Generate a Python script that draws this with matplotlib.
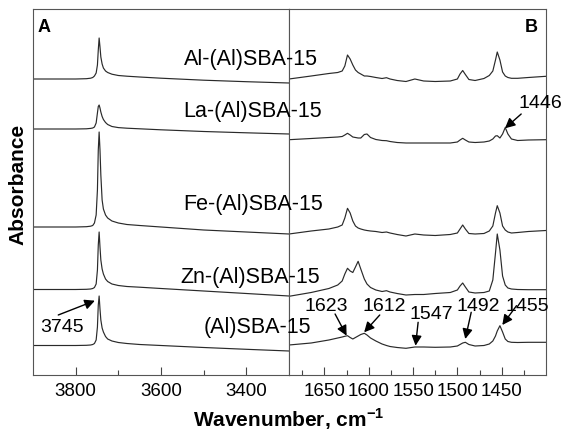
import matplotlib
matplotlib.use('Agg')
from matplotlib import pyplot as plt

plt.rcParams['font.family'] = ['Liberation Sans', 'DejaVu Sans']
plt.rcParams['mathtext.fontset'] = 'custom'
plt.rcParams['mathtext.rm'] = 'Liberation Sans'
plt.rcParams['mathtext.bf'] = 'Liberation Sans:bold'

samples = ['Al-(Al)SBA-15', 'La-(Al)SBA-15', 'Fe-(Al)SBA-15', 'Zn-(Al)SBA-15', '(Al)SBA-15']

# panel A: OH stretching region (arbitrary absorbance units, offset stacked)
wn_oh = [3900, 3850, 3800, 3775, 3765, 3760, 3756, 3752, 3749, 3747, 3745, 3743, 3741,
         3738, 3735, 3730, 3725, 3715, 3700, 3680, 3650, 3600, 3500, 3400, 3300]
oh_al = [296, 296, 296, 296.3, 296.8, 297.5, 299, 302, 310, 325, 337, 328, 318,
         311, 307, 304, 302.5, 300.8, 299.5, 298.8, 298, 296.8, 294.8, 293.3, 292]
oh_la = [246, 246, 246, 246.2, 246.6, 247, 248, 252, 262, 268.5, 270, 267, 263,
         258.5, 255.5, 252.5, 250.5, 248.5, 247.4, 246.8, 246.2, 245.2, 243.5, 242.2, 241]
oh_fe = [148, 148, 148, 148.3, 148.8, 149.5, 152, 160, 185, 225, 243, 225, 200,
         175, 166, 160, 157, 154, 152, 150.5, 149.5, 148, 145, 143, 141]
oh_zn = [85.5, 85.5, 85.5, 85.7, 86, 86.5, 87.5, 91, 105, 130, 143, 128, 115,
         106, 101, 96, 93.5, 91, 89.5, 88.5, 87.8, 86.5, 84, 81.5, 79]
oh_sba = [29.5, 29.5, 29.5, 29.7, 30, 30.5, 31.5, 35, 48, 70, 79, 66, 55,
          47, 43, 38.5, 36, 34, 32.5, 31.5, 30.5, 29.5, 27.5, 25.7, 24]

# panel B: pyridine region
wn_py = [1690, 1665, 1645, 1635, 1630, 1627, 1624, 1621, 1618, 1615, 1612, 1609, 1605,
         1602, 1598, 1592, 1585, 1580, 1576, 1568, 1558, 1548, 1538, 1525, 1508, 1500,
         1497, 1494, 1491, 1487, 1480, 1470, 1464, 1460, 1457, 1455, 1452, 1449, 1446,
         1443, 1439, 1432, 1420, 1400]
py_al = [296, 299, 301.5, 302.5, 304, 309, 320, 316, 310, 305, 302.5, 301, 299,
         299, 298.5, 297.5, 296.5, 297.3, 296, 294.5, 293.5, 296, 294, 293.5, 294, 296,
         301, 304.5, 300.5, 295.5, 294.5, 296.5, 299.5, 304, 315, 323, 315, 303, 299,
         297.5, 296.7, 296.7, 297.5, 298.7]
py_la = [235.3, 236.5, 237.5, 238, 238.5, 240, 241.7, 240, 238, 237.5, 237, 237, 240.5,
         241, 237.5, 235.5, 234.5, 234.3, 233.5, 232.5, 232, 232, 232, 232, 232, 233,
         235, 236.7, 235, 233, 232.5, 233, 234, 236, 239, 239.3, 237, 241, 247.5,
         241, 236, 234.5, 235, 235.3]
py_fe = [141, 144, 146, 148, 150, 157, 166.7, 162, 154, 149, 147, 146, 145,
         144.5, 144, 143.5, 142.5, 143, 142, 140.5, 139, 141, 140, 139.5, 140.5, 142,
         146, 150, 146, 141.5, 141, 141.5, 144, 149, 162, 169.3, 162, 149, 145,
         143, 142, 142.5, 143.5, 144.5]
py_zn = [78.7, 82.5, 86.5, 90, 94, 101, 106.7, 104, 102.5, 108, 113.7, 106, 96,
         91, 87.5, 85, 83.5, 84.3, 83, 81.5, 80, 80.5, 80.5, 81.5, 82.5, 85,
         89, 92, 88, 83, 82, 82.5, 84, 95, 122, 141, 125, 99, 90,
         87, 86, 85.5, 85.3, 85.3]
py_sba = [30, 32, 35, 37, 38, 38.7, 39.3, 37.5, 36, 37.5, 39, 40.5, 41.7,
          40, 37, 34, 31, 29.5, 28.5, 27.5, 26.7, 28, 28, 27.7, 28, 29,
          30.5, 32, 32.7, 30.5, 29, 29.5, 31, 34, 39, 44, 49.3, 43, 36,
          33.5, 32.7, 32.5, 32.7, 32.7]

# arrow annotations: label, text position, arrow tail, arrow head
notes_b = [('1446', (1406, 272.5), (1428, 261), (1446.3, 246.7)),
           ('1623', (1648, 69.5), (1638, 61), (1625, 39.3)),
           ('1612', (1583, 69.5), (1587.6, 60), (1605.2, 42.7)),
           ('1547', (1529, 61.5), (1544.3, 52.7), (1547.2, 29.3)),
           ('1492', (1476, 69.5), (1484.4, 62.7), (1491.1, 36)),
           ('1455', (1421, 69.5), (1433.3, 69.3), (1449.3, 50))]
notes_a = [('3745', (3831, 48.5), (3840.8, 60), (3755, 74.3))]

W, H = 565, 431
fig = plt.figure(figsize=(W / 100, H / 100), dpi=100)
bottom = 1 - 376 / H
height = 366 / H
ax1 = fig.add_axes([33 / W, bottom, 256 / W, height])
ax2 = fig.add_axes([289 / W, bottom, 257 / W, height])

lc = '#2a2a2a'
for y in [oh_al, oh_la, oh_fe, oh_zn, oh_sba]:
    ax1.plot(wn_oh, y, color=lc, lw=0.85)
for y in [py_al, py_la, py_fe, py_zn, py_sba]:
    ax2.plot(wn_py, y, color=lc, lw=0.85)

ax1.set_xlim(3900, 3300)
ax2.set_xlim(1690, 1400)
ax1.set_xticks([3800, 3600, 3400])
ax1.set_xticks([3700, 3500], minor=True)
ax2.set_xticks([1650, 1600, 1550, 1500, 1450])
ax2.set_xticks([1675, 1625, 1575, 1525, 1475, 1425], minor=True)

for ax in (ax1, ax2):
    ax.set_ylim(0, 366)
    ax.set_yticks([])
    ax.tick_params(axis='x', which='major', direction='in', length=6, width=0.8,
                   labelsize=13.5, pad=5, color='#444444')
    ax.tick_params(axis='x', which='minor', direction='in', length=3.5, width=0.8,
                   color='#444444')
    for s in ax.spines.values():
        s.set_color('#555555')
        s.set_linewidth(0.8)

for ax, notes in ((ax1, notes_a), (ax2, notes_b)):
    for lab, txt, tail, head in notes:
        ax.text(txt[0], txt[1], lab, fontsize=14, ha='center', va='center')
        ax.annotate('', xy=head, xytext=tail, annotation_clip=False,
                    arrowprops=dict(arrowstyle='-|>', color='black', lw=1,
                                    mutation_scale=15, shrinkA=0, shrinkB=0))

label_pos = [(251, 59), (253, 112), (253, 205), (250, 278), (257, 328)]
for name, (px, py) in zip(samples, label_pos):
    fig.text(px / W, 1 - py / H, name, fontsize=15.5, ha='center', va='center')

fig.text(38 / W, 1 - 27.5 / H, 'A', fontsize=13, fontweight='bold', ha='left', va='center')
fig.text(538 / W, 1 - 27.5 / H, 'B', fontsize=13, fontweight='bold', ha='right', va='center')

fig.text(289 / W, 1 - 427 / H, r'Wavenumber, cm$^{\mathbf{-1}}$', fontsize=15,
         fontweight='bold', ha='center', va='baseline')
fig.text(17.5 / W, 1 - 184 / H, 'Absorbance', fontsize=15, fontweight='bold',
         rotation=90, ha='center', va='center')

fig.savefig('out.png', dpi=100)
